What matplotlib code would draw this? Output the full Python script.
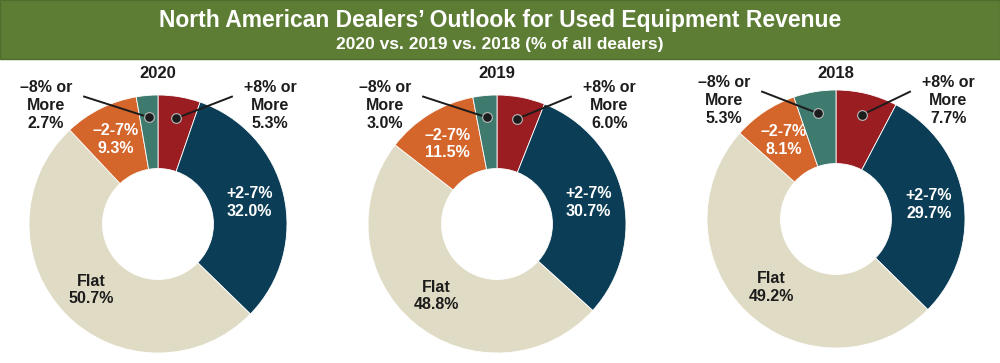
import numpy as np
import matplotlib
matplotlib.use('Agg')
import matplotlib.pyplot as plt
from matplotlib.patches import Rectangle

# Data
years = ['2020', '2019', '2018']
categories = ['+8% or\nMore', '+2-7%', 'Flat', '–2-7%', '–8% or\nMore']
vals_2020 = [5.3, 32.0, 50.7, 9.3, 2.7]
vals_2019 = [6.0, 30.7, 48.8, 11.5, 3.0]
vals_2018 = [7.7, 29.7, 49.2, 8.1, 5.3]
all_vals = [vals_2020, vals_2019, vals_2018]

colors = ['#9a1d22', '#0b3e56', '#e0dbc4', '#d4652b', '#3e7a6d']
text_colors = [None, 'white', '#1c1c1c', 'white', None]

plt.rcParams['font.family'] = ['Liberation Sans', 'DejaVu Sans']

W, H = 1000, 363
fig = plt.figure(figsize=(W / 100, H / 100), dpi=100)

# ===========================
# Green title banner
# ===========================
fig.patches.append(Rectangle((0, 1 - 59 / H), 1, 59 / H, transform=fig.transFigure,
                             facecolor='#5d7d35', edgecolor='#4e6c2b', linewidth=1))
fig.text(0.5, 1 - 20 / H, 'North American Dealers’ Outlook for Used Equipment Revenue',
         ha='center', va='center', color='white', fontsize=16.5, fontweight='bold')
fig.text(0.5, 1 - 45 / H, '2020 vs. 2019 vs. 2018 (% of all dealers)',
         ha='center', va='center', color='white', fontsize=12.5, fontweight='bold')

# ===========================
# Donuts
# ===========================
centers = [(158, 224), (497, 224), (836, 219)]
R = 129          # outer radius in pixels
half = 1.4       # data half-range of each axes

for (cx, cy), year, vals in zip(centers, years, all_vals):
    side = 2 * half * R
    ax = fig.add_axes([(cx - side / 2) / W, (H - cy - side / 2) / H, side / W, side / H])
    ax.axis('off')

    wedges, _ = ax.pie(vals, colors=colors, startangle=90, counterclock=False, radius=1,
                       wedgeprops=dict(width=0.57, edgecolor='white', linewidth=0.6))
    ax.set_xlim(-half, half)
    ax.set_ylim(-half, half)
    ax.set_aspect('equal')

    fig.text(cx / W, 1 - 74 / H, year, ha='center', va='center', fontsize=12,
             fontweight='bold', color='#1c1c1c')

    for i, w in enumerate(wedges):
        ang = np.deg2rad((w.theta1 + w.theta2) / 2)
        label = f'{categories[i]}\n{vals[i]:.1f}%'
        if text_colors[i] is not None:
            r = 0.73
            ax.text(r * np.cos(ang), r * np.sin(ang), label, ha='center', va='center',
                    fontsize=11.5, fontweight='bold', color=text_colors[i], linespacing=1.2)
        else:
            side_sign = 1 if i == 0 else -1
            dx, dy = 0.83 * np.cos(ang), 0.83 * np.sin(ang)
            ax.plot([dx, side_sign * 0.58], [dy, 0.99], color='#1c1c1c', lw=1.4,
                    solid_capstyle='butt', zorder=5)
            ax.plot(dx, dy, 'o', ms=7, color='#1c1c1c', mec='#bbbbbb', mew=0.8, zorder=6)
            ax.text(side_sign * 0.87, 0.92, label, ha='center', va='center', fontsize=11.5,
                    fontweight='bold', color='#1c1c1c', linespacing=1.25)

fig.savefig('out.png', dpi=100)
